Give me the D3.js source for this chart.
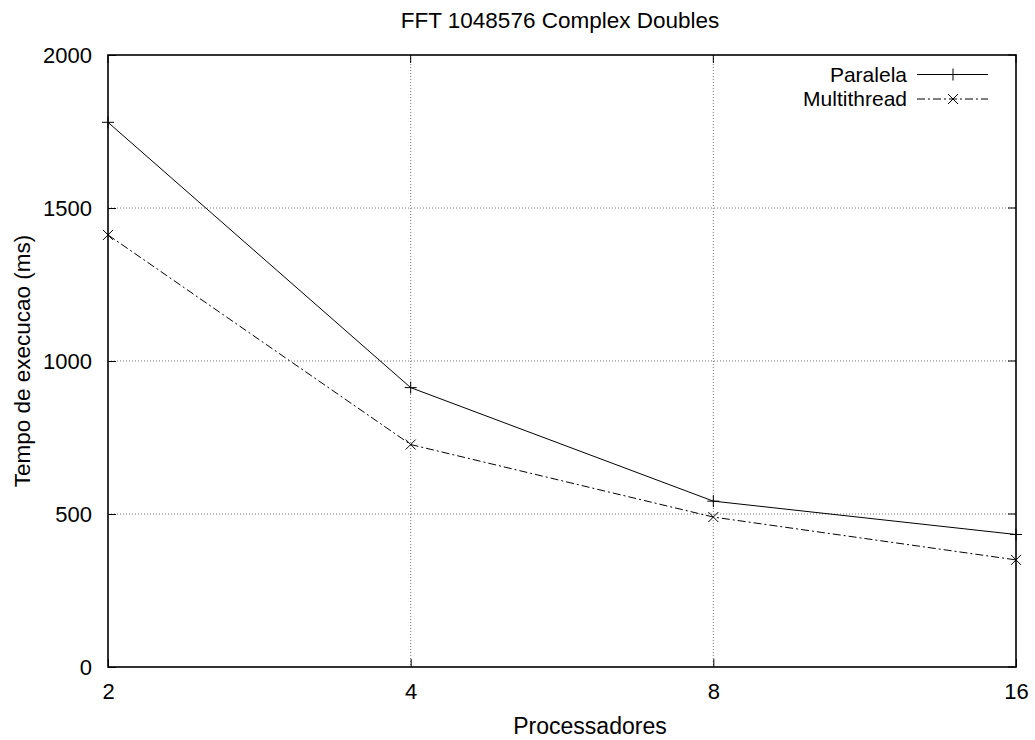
<!DOCTYPE html>
<html><head><meta charset="utf-8">
<script src="https://cdn.jsdelivr.net/npm/d3@7"></script>
<style>body{margin:0;background:#fff}svg{display:block}text{font-family:"Liberation Sans",Arial,sans-serif;fill:#000}</style>
</head><body><svg id="c" width="1035" height="740"></svg>
<script>
const processors = [2, 4, 8, 16];
const paralela = [1780, 913, 542, 433];
const multithread = [1412, 727, 490, 350];
const yTicks = [0, 500, 1000, 1500, 2000];
const seriesNames = ["Paralela", "Multithread"];

const svg = d3.select("#c");
const L = 108, R = 1016, T = 55, B = 667;
const x = d3.scaleLog().base(2).domain([2, 16]).range([L, R]);
const y = d3.scaleLinear().domain([0, 2000]).range([B, T]);

// grid
const g = svg.append("g");
g.selectAll(".gx").data(processors.slice(1, -1)).enter().append("line")
  .attr("x1", d => x(d)).attr("x2", d => x(d)).attr("y1", T).attr("y2", B)
  .attr("stroke", "#777").attr("stroke-dasharray", "1,2");
g.selectAll(".gy").data(yTicks.slice(1, -1)).enter().append("line")
  .attr("y1", d => y(d)).attr("y2", d => y(d)).attr("x1", L).attr("x2", R)
  .attr("stroke", "#777").attr("stroke-dasharray", "1,2");

// axes
const ax = svg.append("g").attr("transform", `translate(0,${B})`)
  .call(d3.axisBottom(x).tickValues(processors).tickFormat(d3.format("d")).tickSizeInner(-8).tickSizeOuter(0).tickPadding(16));
const ay = svg.append("g").attr("transform", `translate(${L},0)`)
  .call(d3.axisLeft(y).tickValues(yTicks).tickFormat(d3.format("d")).tickSizeInner(-8).tickSizeOuter(0).tickPadding(16));
[ax, ay].forEach(a => {
  a.attr("font-family", null).attr("font-size", null);
  a.select(".domain").remove();
  a.selectAll("text").style("font-size", "22px").style("font-family", "'Liberation Sans', Arial, sans-serif");
  a.selectAll("line").attr("stroke", "#000");
});
// top ticks & right ticks (mirror)
svg.selectAll(".tt").data(processors).enter().append("line")
  .attr("x1", d => x(d)).attr("x2", d => x(d)).attr("y1", T).attr("y2", T + 8).attr("stroke", "#000");
svg.selectAll(".rt").data(yTicks).enter().append("line")
  .attr("y1", d => y(d)).attr("y2", d => y(d)).attr("x1", R).attr("x2", R - 8).attr("stroke", "#000");

svg.append("rect").attr("x", L).attr("y", T).attr("width", R - L).attr("height", B - T)
  .attr("fill", "none").attr("stroke", "#000").attr("stroke-width", 1.6);

// series
const line = d3.line().x((d, i) => x(processors[i])).y(d => y(d));
svg.append("path").datum(paralela).attr("d", line).attr("fill", "none").attr("stroke", "#000").attr("stroke-width", 1);
svg.append("path").datum(multithread).attr("d", line).attr("fill", "none").attr("stroke", "#000").attr("stroke-width", 1).attr("stroke-dasharray", "8,3,2,3");

function plus(sel, cx, cy) {
  sel.append("path").attr("d", `M${cx-6},${cy}H${cx+6}M${cx},${cy-6}V${cy+6}`).attr("stroke", "#000").attr("stroke-width", 1);
}
function cross(sel, cx, cy) {
  sel.append("path").attr("d", `M${cx-5},${cy-5}L${cx+5},${cy+5}M${cx-5},${cy+5}L${cx+5},${cy-5}`).attr("stroke", "#000").attr("stroke-width", 1);
}
paralela.forEach((v, i) => plus(svg, x(processors[i]), y(v)));
multithread.forEach((v, i) => cross(svg, x(processors[i]), y(v)));

// legend
const lg = svg.append("g");
[0, 1].forEach(i => {
  const ly = 74.5 + i * 24.5;
  lg.append("text").attr("x", 907).attr("y", ly).attr("dy", "0.35em").attr("text-anchor", "end").style("font-size", "21px").text(seriesNames[i]);
  const l = lg.append("line").attr("x1", 917).attr("x2", 988).attr("y1", ly).attr("y2", ly).attr("stroke", "#000");
  if (i === 1) { l.attr("stroke-dasharray", "8,3,2,3"); cross(lg, 953, ly); } else plus(lg, 953, ly);
});

// titles
svg.append("text").attr("x", 560).attr("y", 28).attr("text-anchor", "middle").style("font-size", "22.5px").text("FFT 1048576 Complex Doubles");
svg.append("text").attr("x", 590).attr("y", 734).attr("text-anchor", "middle").style("font-size", "23px").text("Processadores");
svg.append("text").attr("transform", "translate(30,361) rotate(-90)").attr("text-anchor", "middle").style("font-size", "22.5px").text("Tempo de execucao (ms)");
</script></body></html>
